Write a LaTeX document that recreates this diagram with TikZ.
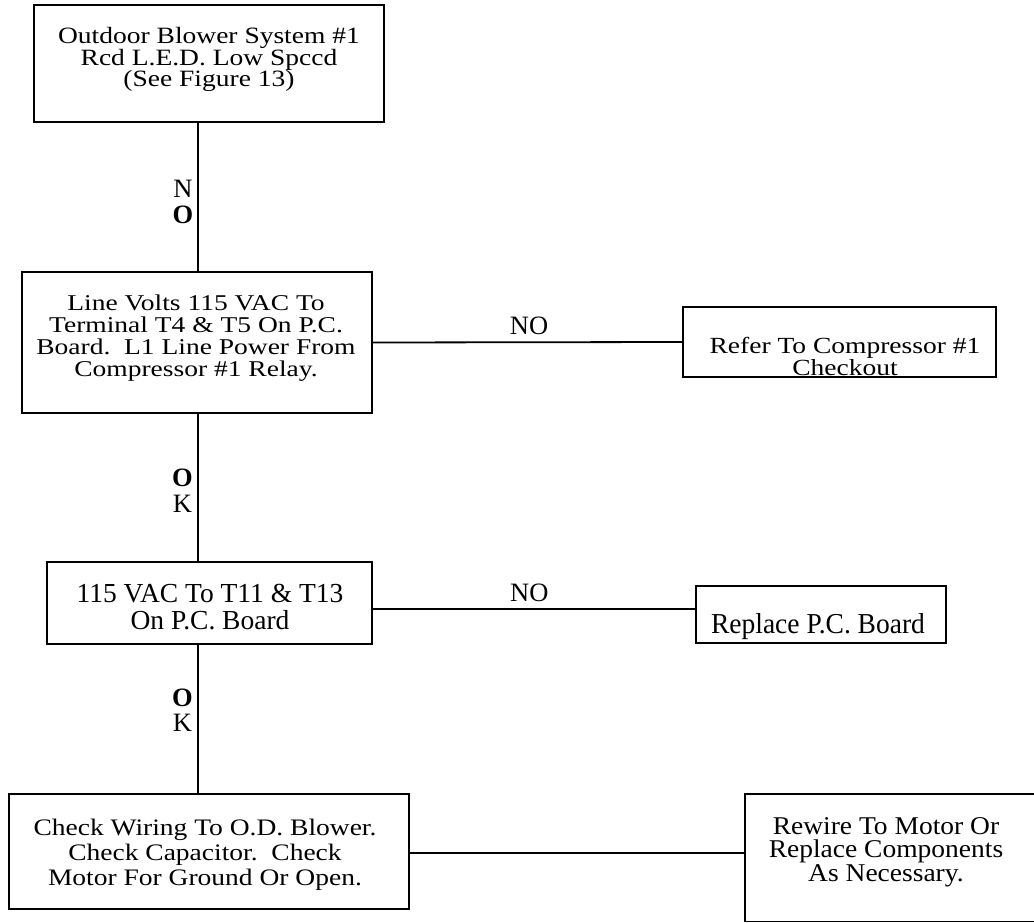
\documentclass[tikz,border=0pt]{standalone}
\usepackage{fontspec}
\setmainfont{Liberation Serif}
% centred lines, stretched vertically by #1, with baseline pitch #2 (before scaling)
\newcommand\stretchlines[3]{\scalebox{1}[#1]{\parbox[t]{440pt}{\centering\fontsize{27.5pt}{#2}\selectfont\lineskiplimit=-100pt\relax #3}}}
\begin{document}
\begin{tikzpicture}[x=1pt,y=-1pt,
  frame/.style={draw=black, line width=1.6pt, inner sep=0pt, outer sep=0pt},
  vlink/.style={line width=2.4pt},
  hlink/.style={line width=1.8pt},
  boxtext/.style={inner sep=0pt, anchor=base},
  lbl/.style={inner sep=0pt, anchor=base, font=\fontsize{26.5pt}{30pt}\selectfont}]
\useasboundingbox (0,0) rectangle (1034,923);

% boxes
\node[frame, minimum width=350pt, minimum height=117pt] (b1) at (209,63.5) {};
\node[frame, minimum width=350pt, minimum height=141pt] (b2) at (197,342.5) {};
\node[frame, minimum width=313pt, minimum height=70pt] (b3) at (839.5,342) {};
\node[frame, minimum width=325pt, minimum height=82pt] (b4) at (209.5,603) {};
\node[frame, minimum width=250pt, minimum height=57pt] (b5) at (821,614.5) {};
\node[frame, minimum width=400pt, minimum height=115pt] (b6) at (209,851.5) {};
\node[inner sep=0pt, outer sep=0pt, minimum width=289pt, minimum height=127.5pt] (b7) at (889.5,857.75) {};
\draw[line width=1.6pt] (b7.north east) -- (b7.north west) -- (b7.south west) -- (b7.south east);

% texts
\node[boxtext] (t1) at (209,43.5) {\stretchlines{0.85}{25.3pt}{Outdoor Blower System \#1\\Rcd L.E.D. Low Spccd\\(See Figure 13)}};
\node[boxtext] (t2) at (196,310.7) {\stretchlines{0.82}{26.6pt}{Line Volts 115 VAC To\\Terminal T4 \& T5 On P.C.\\Board.\ \ L1 Line Power From\\Compressor \#1 Relay.}};
\node[boxtext] (t3) at (845,353) {\stretchlines{0.84}{26.2pt}{Refer To Compressor \#1\\Checkout}};
\node[boxtext] (t4) at (210,602.7) {\stretchlines{1.0}{26.6pt}{115 VAC To T11 \& T13\\On P.C. Board}};
\node[boxtext] (t5) at (818,633.3) {\stretchlines{1.05}{24pt}{Replace P.C. Board}};
\node[boxtext] (t6) at (205,835) {\stretchlines{0.86}{29.1pt}{Check Wiring To O.D. Blower.\\Check Capacitor.\ \ Check\\Motor For Ground Or Open.}};
\node[boxtext] (t7) at (886,834) {\stretchlines{0.93}{25.3pt}{Rewire To Motor Or\\Replace Components\\As Necessary.}};

% connectors
\coordinate (spine) at (198,0);
\coordinate (tap45) at (372,609);
\coordinate (tap67) at (409,853);
\draw[vlink] (spine |- b1.south) -- (spine |- b2.north);
\draw[vlink] (spine |- b2.south) -- (spine |- b4.north);
\draw[vlink] (spine |- b4.south) -- (spine |- b6.north);
\draw[hlink] (b2.east) -- (b3.west);
\draw[hlink] (tap45) -- (tap45 -| b5.west);
\draw[hlink] (tap67) -- (tap67 -| b7.west);

% connector labels
\node[lbl] (n1) at (183,197) {N};
\node[lbl] (o1) at (183,223) {\textbf{O}};
\node[lbl] (o2) at (182.5,486.7) {\textbf{O}};
\node[lbl] (k2) at (182.5,512.3) {K};
\node[lbl] (o3) at (182.5,706.7) {\textbf{O}};
\node[lbl] (k3) at (182.5,731.7) {K};
\node[lbl] (no1) at (529,334) {NO};
\node[lbl] (no2) at (529.3,601.7) {NO};
\end{tikzpicture}
\end{document}
